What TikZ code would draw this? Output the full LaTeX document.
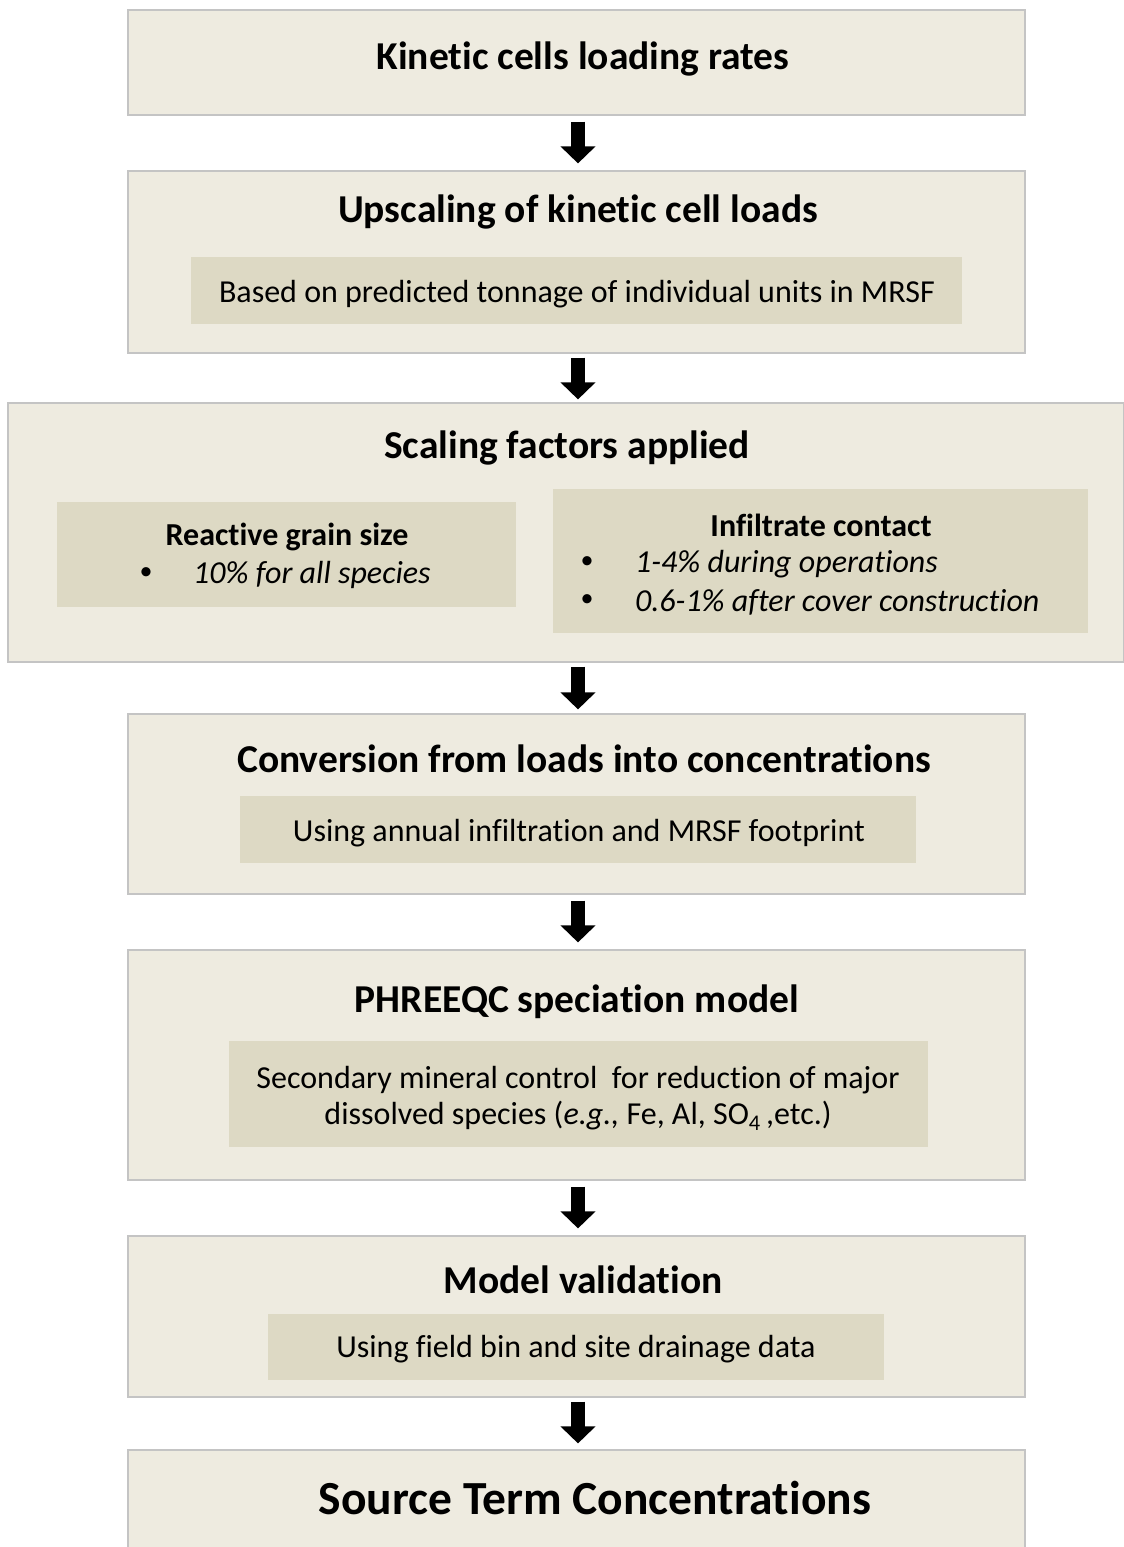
\documentclass[tikz,border=0pt]{standalone}
\usepackage{fontspec}
\setmainfont{Carlito}[Ligatures=NoCommon]
\usetikzlibrary{arrows.meta}
\definecolor{outerfill}{HTML}{EEEBE0}
\definecolor{innerfill}{HTML}{DDD9C4}
\definecolor{outerline}{HTML}{C4C4C4}
\tikzset{
  outerbox/.style={draw=outerline, line width=1.2pt, fill=outerfill, inner sep=0pt},
  innerbox/.style={fill=innerfill, inner sep=0pt},
  titletext/.style={font=\fontsize{39.5}{46}\selectfont\bfseries, inner sep=0pt},
  bigtitle/.style={font=\fontsize{47.5}{56}\selectfont\bfseries, inner sep=0pt},
  bodytext/.style={font=\fontsize{32}{36}\selectfont, inner sep=0pt, align=center},
  subtitle/.style={font=\fontsize{32}{38}\selectfont\bfseries, inner sep=0pt},
  itemtext/.style={font=\fontsize{32}{38}\selectfont\itshape, inner sep=0pt, anchor=west},
  bullettext/.style={font=\fontsize{26}{30}\selectfont, inner sep=0pt},
  bigarrow/.style={line width=14pt, -{Triangle[width=34pt,length=17pt]}, black,
    shorten <=6pt, shorten >=7pt}
}
\begin{document}
\begin{tikzpicture}[x=1pt,y=-1pt]
\useasboundingbox (0,0) rectangle (1124,1547);
\fill[white] (0,0) rectangle (1124,1547);

% Box 1
\node[outerbox, minimum width=897pt, minimum height=105pt] (b1) at (576.5,62.5) {};
\node[titletext] (t1) at (583,59) {Kinetic cells loading rates};

% Box 2
\node[outerbox, minimum width=897pt, minimum height=182pt] (b2) at (576.5,262) {};
\node[titletext] (t2) at (578,212) {Upscaling of kinetic cell loads};
\node[innerbox, minimum width=771pt, minimum height=67pt] (i2) at (576.5,290.5) {};
\node[bodytext] (x2) at (577,294) {Based on predicted tonnage of individual units in MRSF};

% Box 3
\node[outerbox, minimum width=1116pt, minimum height=259pt] (b3) at (566,532.5) {};
\node[titletext] (t3) at (567,448) {Scaling factors applied};
\node[innerbox, minimum width=459pt, minimum height=105pt] (i3a) at (286.5,554.5) {};
\node[subtitle] (s3a) at (287,537) {Reactive grain size};
\node[bullettext] (u3a) at (146,574) {•};
\node[itemtext] (x3a) at (193,575) {10\% for all species};
\node[innerbox, minimum width=535pt, minimum height=144pt] (i3b) at (820.5,561) {};
\node[subtitle] (s3b) at (821,525) {Infiltrate contact};
\node[bullettext] (u3b) at (587,563) {•};
\node[itemtext] (x3b) at (635,564) {1-4\% during operations};
\node[bullettext] (u3c) at (587,601) {•};
\node[itemtext] (x3c) at (635,602) {0.6-1\% after cover construction};

% Box 4
\node[outerbox, minimum width=897pt, minimum height=180pt] (b4) at (576.5,804) {};
\node[titletext] (t4) at (584,759) {Conversion from loads into concentrations};
\node[innerbox, minimum width=676pt, minimum height=67pt] (i4) at (578,829.5) {};
\node[bodytext] (x4) at (579,833) {Using annual infiltration and MRSF footprint};

% Box 5
\node[outerbox, minimum width=897pt, minimum height=230pt] (b5) at (576.5,1065) {};
\node[titletext] (t5) at (577,1002) {PHREEQC speciation model};
\node[innerbox, minimum width=699pt, minimum height=106pt] (i5) at (578.5,1094) {};
\node[bodytext] (x5) at (578,1098) {Secondary mineral control\ \ for reduction of major\\dissolved species (\textit{e.g.,} Fe, Al, SO\textsubscript{4}\,,etc.)};

% Box 6
\node[outerbox, minimum width=897pt, minimum height=161pt] (b6) at (576.5,1316.5) {};
\node[titletext] (t6) at (583,1280) {Model validation};
\node[innerbox, minimum width=616pt, minimum height=66pt] (i6) at (576,1347) {};
\node[bodytext] (x6) at (576,1349) {Using field bin and site drainage data};

% Box 7
\node[outerbox, minimum width=897pt, minimum height=105pt] (b7) at (576.5,1502.5) {};
\node[bigtitle] (t7) at (595,1498) {Source Term Concentrations};

% Arrows
\coordinate (ax) at (578,0);
\draw[bigarrow] (ax |- b1.south) -- (ax |- b2.north);
\draw[bigarrow, shorten <=4pt, shorten >=3pt] (ax |- b2.south) -- (ax |- b3.north);
\draw[bigarrow, shorten <=4pt, shorten >=4pt] (ax |- b3.south) -- (ax |- b4.north);
\draw[bigarrow] (ax |- b4.south) -- (ax |- b5.north);
\draw[bigarrow] (ax |- b5.south) -- (ax |- b6.north);
\draw[bigarrow, shorten <=4pt, shorten >=6pt] (ax |- b6.south) -- (ax |- b7.north);
\end{tikzpicture}
\end{document}
